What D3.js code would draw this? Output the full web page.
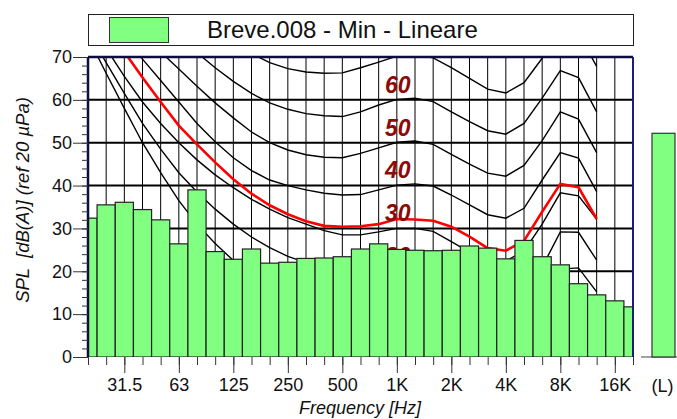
<!DOCTYPE html>
<html>
<head>
<meta charset="utf-8">
<script src="https://cdn.jsdelivr.net/npm/d3@7"></script>
<style>
body { margin: 0; background: #fff; }
svg { font-family: "Liberation Sans", Arial, sans-serif; }
</style>
</head>
<body>
<script>
// third octave bands, 20 Hz .. 20 kHz
var bands = ["20","25","31.5","40","50","63","80","100","125","160","200","250","315","400","500","630","800","1K","1.25K","1.6K","2K","2.5K","3.15K","4K","5K","6.3K","8K","10K","12.5K","16K","20K"];
var levels = [32.4, 35.5, 36.1, 34.4, 32.0, 26.4, 39.0, 24.6, 22.8, 25.2, 21.9, 22.1, 23.0, 23.1, 23.4, 25.2, 26.4, 25.1, 24.9, 24.8, 24.9, 25.9, 25.4, 22.9, 27.2, 23.4, 21.5, 17.1, 14.5, 13.1, 11.7];
var totalLabel = "(L)";
var totalLevel = 52.2;
var tickLabels = ["31.5","63","125","250","500","1K","2K","4K","8K","16K"];
var yTicks = [0,10,20,30,40,50,60,70];

// equal loudness contours, 20 Hz .. 12.5 kHz
var phon10 = [74.6,66.2,58,50,43,36.5,31,26.5,22.5,19,16,13.5,11.5,9.8,8.5,8.5,9.2,10,10.2,9.5,7,4.5,2.5,2,4.5,11,20.5,20.8,15.2];
var phon20 = [76,68.7,61.5,54.5,48.5,43,38.5,34.5,31,28,25.5,23.5,22,20.5,19.5,19,19.4,20,20.2,19.5,17,14.5,12.7,12.2,14.5,21,29.2,29.1,22.6];
var phon30 = [79,72,65.5,59.5,54.5,50,46,42.5,39.5,36.8,34.5,32.5,31,29.5,28.5,28.5,29.2,30,30,29.3,26.9,24.5,22.8,22.4,24.7,31,38.3,37.6,32.2];
var phon40 = [86,80.5,75,69.5,64.5,59.5,54.5,50.2,46.5,43.5,41.3,40,39,38.2,37.8,37.9,39,40.1,40.4,39.9,37.8,35.5,33.2,32.4,34.7,41.3,47.7,46.4,38.6];
var phon50 = [92,86.5,81,76,71.2,67.2,63.2,59.3,55.8,52.5,50,48.3,47.2,46.6,46.5,47.5,48.8,50.1,50.4,49.6,47.3,45,42.9,42.2,44.7,50.5,57.2,55.5,47.7];
var phon60 = [100,94,88.5,83,78,74,71,67.5,64.3,61.5,59.3,57.8,56.8,56.3,56.1,57.2,58.8,60.1,60.4,59.6,57.2,54.9,52.8,52,54.5,60.4,66.8,65.2,57.2];
var phon70 = [108,102,96,91,86,82,78,75,72.5,70.8,68.7,67.3,66.5,66.2,66.3,67.5,68.8,70.2,70.5,69.8,67.5,65,62.5,61.6,64,69.7,77,75.5,67.8];
var redCurve = [82,77,71.2,65.2,59.5,54,49.6,45.4,41.5,38.1,35.4,33.3,31.7,30.6,30.4,30.5,31,32.2,32.1,31.8,30.4,28.1,25.4,24.8,27.1,33.9,40.4,39.6,32.2];
var contourLabels = [60,50,40,30,20];

var width = 677, height = 419;
var plotLeft = 88, plotRight = 633, plotTop = 57, plotBottom = 357;

var svg = d3.select("body").append("svg")
    .attr("width", width)
    .attr("height", height);

var x = d3.scalePoint().domain(bands).range([plotLeft, plotRight]);
var step = x.step();
var y = d3.scaleLinear().domain([0, 70]).range([plotBottom, plotTop]);
var xL = d3.scaleBand().domain([totalLabel]).range([652, 675]);

svg.append("defs").append("clipPath").attr("id", "plotClip")
  .append("rect").attr("x", plotLeft).attr("y", plotTop)
  .attr("width", plotRight - plotLeft).attr("height", plotBottom - plotTop);

// legend
var legend = svg.append("g");
legend.append("rect").attr("x", 88.5).attr("y", 14.5).attr("width", 545).attr("height", 31)
  .attr("fill", "#fff").attr("stroke", "#222").attr("stroke-width", 1);
legend.append("rect").attr("x", 109.5).attr("y", 17.5).attr("width", 59).attr("height", 25)
  .attr("fill", "#80ff80").attr("stroke", "#333").attr("stroke-width", 1);
legend.append("text").attr("x", 207).attr("y", 38).attr("font-size", 24).attr("fill", "#111")
  .text("Breve.008 - Min - Lineare");

// grid
var grid = svg.append("g");
grid.selectAll("line.v").data(bands.slice(1, -1)).enter().append("line")
  .attr("x1", function(d){ return x(d); }).attr("x2", function(d){ return x(d); })
  .attr("y1", plotTop).attr("y2", plotBottom)
  .attr("stroke", "#000").attr("stroke-width", 1);
grid.selectAll("line.h").data([10,20,30,40,50,60]).enter().append("line")
  .attr("x1", plotLeft).attr("x2", plotRight)
  .attr("y1", function(d){ return y(d); }).attr("y2", function(d){ return y(d); })
  .attr("stroke", "#000").attr("stroke-width", 2);

// contours
var line = d3.line()
  .x(function(d, i){ return x(bands[i]); })
  .y(function(d){ return y(d); });

var curves = svg.append("g").attr("clip-path", "url(#plotClip)");
curves.selectAll("path.phon").data([phon10, phon20, phon30, phon40, phon50, phon60, phon70]).enter()
  .append("path")
  .attr("d", line)
  .attr("fill", "none").attr("stroke", "#000").attr("stroke-width", 1.4);
curves.append("path").datum(redCurve)
  .attr("d", line)
  .attr("fill", "none").attr("stroke", "#ff0000").attr("stroke-width", 2.6);

svg.append("g").selectAll("text").data(contourLabels).enter().append("text")
  .attr("x", x("1K") + 1)
  .attr("y", function(d){ return y(d + 3.6); })
  .attr("dy", "0.36em")
  .attr("text-anchor", "middle")
  .attr("font-size", 23).attr("font-weight", "bold").attr("font-style", "italic")
  .attr("fill", "#8b0a0a")
  .text(function(d){ return d; });

// bars
svg.append("g").attr("clip-path", "url(#plotClip)")
  .selectAll("rect").data(levels).enter().append("rect")
  .attr("x", function(d, i){ return x(bands[i]) - step / 2; })
  .attr("width", step)
  .attr("y", function(d){ return y(d); })
  .attr("height", function(d){ return y(0) - y(d); })
  .attr("fill", "#80ff80").attr("stroke", "#222").attr("stroke-width", 1.2);

// total bar
svg.append("line").attr("x1", 641).attr("x2", 677).attr("y1", y(0)).attr("y2", y(0))
  .attr("stroke", "#444").attr("stroke-width", 1.2);
svg.append("rect")
  .attr("x", xL(totalLabel)).attr("width", xL.bandwidth())
  .attr("y", y(totalLevel)).attr("height", y(0) - y(totalLevel))
  .attr("fill", "#80ff80").attr("stroke", "#333").attr("stroke-width", 1.2);
svg.append("text").attr("x", xL(totalLabel) + xL.bandwidth() / 2 - 1).attr("y", 391.5)
  .attr("text-anchor", "middle").attr("font-size", 18).attr("fill", "#111").text(totalLabel);

// frame
svg.append("line").attr("x1", plotLeft).attr("x2", plotLeft).attr("y1", plotTop).attr("y2", plotBottom)
  .attr("stroke", "#0c0c40").attr("stroke-width", 2.5);
svg.append("line").attr("x1", plotLeft).attr("x2", plotRight).attr("y1", plotTop).attr("y2", plotTop)
  .attr("stroke", "#0c0c40").attr("stroke-width", 2.5);
svg.append("line").attr("x1", plotRight).attr("x2", plotRight).attr("y1", plotTop).attr("y2", plotBottom)
  .attr("stroke", "#1c1c78").attr("stroke-width", 2);

// y axis
var yMinor = svg.append("g").attr("transform", "translate(" + plotLeft + ",0)")
  .call(d3.axisLeft(y).ticks(35).tickSize(6).tickFormat(""));
yMinor.select(".domain").remove();
yMinor.selectAll("line").attr("stroke", "#333");

var yAxis = svg.append("g").attr("transform", "translate(" + plotLeft + ",0)")
  .call(d3.axisLeft(y).tickValues(yTicks).tickSize(15).tickPadding(1));
yAxis.select(".domain").remove();
yAxis.selectAll("line").attr("stroke", "#333");
yAxis.selectAll("text").attr("font-size", 18).attr("fill", "#111")
  .attr("font-family", "Liberation Sans, Arial, sans-serif");

// x axis
var xMinor = svg.append("g").attr("transform", "translate(0," + plotBottom + ")")
  .call(d3.axisBottom(x).tickSize(8).tickFormat(""));
xMinor.select(".domain").remove();
xMinor.selectAll("line").attr("stroke", "#333");

var xAxis = svg.append("g").attr("transform", "translate(0," + plotBottom + ")")
  .call(d3.axisBottom(x).tickValues(tickLabels).tickSize(16).tickPadding(5));
xAxis.select(".domain").remove();
xAxis.selectAll("line").attr("stroke", "#333");
xAxis.selectAll("text").attr("font-size", 18).attr("fill", "#111")
  .attr("font-family", "Liberation Sans, Arial, sans-serif");

// titles
svg.append("text").attr("x", 360).attr("y", 414)
  .attr("text-anchor", "middle").attr("font-size", 18).attr("font-style", "italic").attr("fill", "#111")
  .text("Frequency [Hz]");
svg.append("text")
  .attr("transform", "translate(29,200) rotate(-90)")
  .attr("text-anchor", "middle").attr("font-size", 18.5).attr("font-style", "italic").attr("fill", "#111")
  .style("white-space", "pre")
  .text("SPL  [dB(A)] (ref 20 µPa)");
</script>
</body>
</html>
